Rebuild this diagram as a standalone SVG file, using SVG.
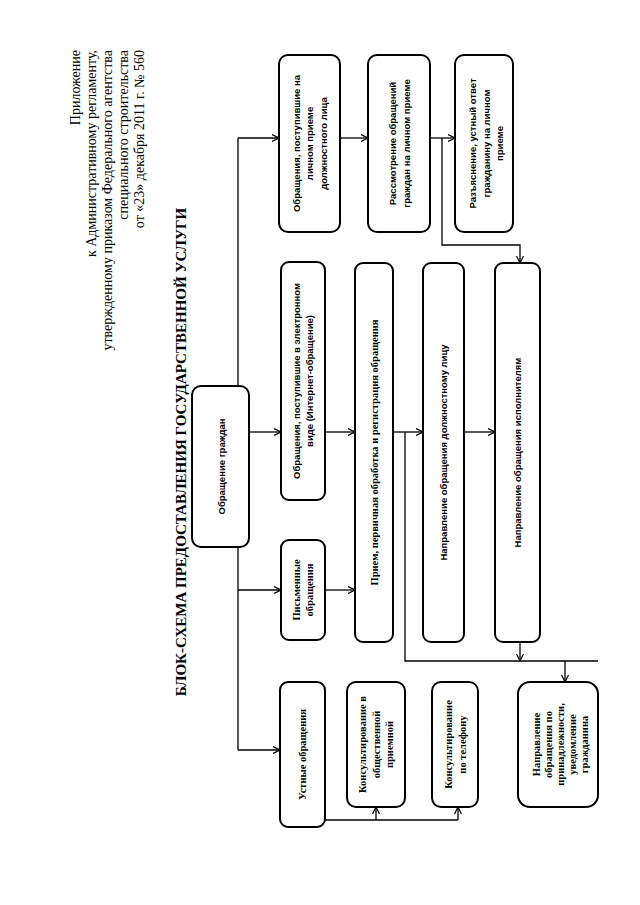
<svg xmlns="http://www.w3.org/2000/svg" width="640" height="905" viewBox="0 0 640 905">
<style>
.box{fill:#fff;stroke:#000;stroke-width:2}
.ln{fill:none;stroke:#000;stroke-width:1.3}
.hd{font-family:"Liberation Serif","Times New Roman",serif;font-size:14px;fill:#000}
.ttl{font-family:"Liberation Serif","Times New Roman",serif;font-size:15px;font-weight:bold;fill:#000}
.ss{font-family:"Liberation Sans",Arial,sans-serif;font-size:9.5px;font-weight:bold;fill:#000;text-anchor:middle}
.sr{font-family:"Liberation Serif","Times New Roman",serif;font-size:10.5px;font-weight:bold;fill:#000;text-anchor:middle}
</style>
<defs>
<marker id="ar" markerWidth="8" markerHeight="8" refX="7" refY="4" orient="auto" markerUnits="userSpaceOnUse">
<path d="M0,0.5 L7,4 L0,7.5" fill="none" stroke="#000" stroke-width="1.2"/>
</marker>
</defs>
<rect width="640" height="905" fill="#fff"/>
<g id="header" transform="rotate(-90)">
<text class="hd" x="-50" y="80" text-anchor="end">Приложение</text>
<text class="hd" x="-50" y="96" text-anchor="end">к Административному регламенту,</text>
<text class="hd" x="-50" y="112" text-anchor="end">утвержденному приказом Федерального агентства</text>
<text class="hd" x="-50" y="128" text-anchor="end">специального строительства</text>
<text class="hd" x="-50" y="144" text-anchor="end">от «23» декабря 2011 г. № 560</text>
</g>
<g id="title" transform="rotate(-90)">
<text class="ttl" x="-452" y="186" text-anchor="middle">БЛОК-СХЕМА ПРЕДОСТАВЛЕНИЯ ГОСУДАРСТВЕННОЙ УСЛУГИ</text>
</g>
<g id="connectors">
<path class="ln" d="M238,386 V138"/>
<path class="ln" d="M238,138 H279" marker-end="url(#ar)"/>
<path class="ln" d="M340,138 H368" marker-end="url(#ar)"/>
<path class="ln" d="M430,138 H455" marker-end="url(#ar)"/>
<path class="ln" d="M442,138 V245 H520 V263" marker-end="url(#ar)"/>
<path class="ln" d="M249,432 H281" marker-end="url(#ar)"/>
<path class="ln" d="M325,432 H355" marker-end="url(#ar)"/>
<path class="ln" d="M393,432 H423" marker-end="url(#ar)"/>
<path class="ln" d="M464,432 H495" marker-end="url(#ar)"/>
<path class="ln" d="M238,547 V750"/>
<path class="ln" d="M238,590 H281" marker-end="url(#ar)"/>
<path class="ln" d="M325,590 H355" marker-end="url(#ar)"/>
<path class="ln" d="M405,432 V661 H598"/>
<path class="ln" d="M520,642 V661" marker-end="url(#ar)"/>
<path class="ln" d="M565,661 V682" marker-end="url(#ar)"/>
<path class="ln" d="M238,750 H280" marker-end="url(#ar)"/>
<path class="ln" d="M325,820 H458"/>
<path class="ln" d="M376,820 V807" marker-end="url(#ar)"/>
<path class="ln" d="M458,820 V807" marker-end="url(#ar)"/>
</g>
<g id="n-obrashchenie">
<rect class="box" x="192" y="386" width="57" height="161" rx="9"/>
<text class="ss" transform="translate(221,466.5) rotate(-90)" y="3.5">Обращение граждан</text>
</g>
<g id="n-lichnyi-priem">
<rect class="box" x="279" y="55" width="61" height="177" rx="9"/>
<text class="ss" transform="translate(309.5,143.5) rotate(-90)"><tspan x="0" y="-10">Обращения, поступившие на</tspan><tspan x="0" y="3.5">личном приеме</tspan><tspan x="0" y="17">должностного лица</tspan></text>
</g>
<g id="n-rassmotrenie">
<rect class="box" x="368" y="55" width="62" height="177" rx="9"/>
<text class="ss" transform="translate(399,143.5) rotate(-90)"><tspan x="0" y="-3">Рассмотрение обращений</tspan><tspan x="0" y="10.5">граждан на личном приеме</tspan></text>
</g>
<g id="n-razyasnenie">
<rect class="box" x="455" y="55" width="58" height="177" rx="9"/>
<text class="ss" transform="translate(486,143.5) rotate(-90)"><tspan x="0" y="-10">Разъяснение, устный ответ</tspan><tspan x="0" y="3.5">гражданину на личном</tspan><tspan x="0" y="17">приеме</tspan></text>
</g>
<g id="n-elektronnye">
<rect class="box" x="281" y="262" width="44" height="238" rx="8"/>
<text class="ss" transform="translate(303,381) rotate(-90)"><tspan x="0" y="-3">Обращения, поступившие в электронном</tspan><tspan x="0" y="9.5">виде (Интернет-обращение)</tspan></text>
</g>
<g id="n-pismennye">
<rect class="box" x="281" y="540" width="44" height="100" rx="8"/>
<text class="sr" transform="translate(303,590) rotate(-90)"><tspan x="0" y="-3">Письменные</tspan><tspan x="0" y="9.5">обращения</tspan></text>
</g>
<g id="n-priem">
<rect class="box" x="355" y="263" width="38" height="379" rx="8"/>
<text class="sr" transform="translate(374,452.5) rotate(-90)" y="3.5">Прием, первичная обработка и регистрация обращения</text>
</g>
<g id="n-dolzhnostnomu">
<rect class="box" x="423" y="263" width="41" height="379" rx="8"/>
<text class="ss" transform="translate(443.5,452.5) rotate(-90)" y="3.5">Направление обращения должностному лицу</text>
</g>
<g id="n-ispolnitelyam">
<rect class="box" x="495" y="263" width="45" height="379" rx="8"/>
<text class="ss" transform="translate(517.5,452.5) rotate(-90)" y="3.5">Направление обращения исполнителям</text>
</g>
<g id="n-ustnye">
<rect class="box" x="280" y="682" width="45" height="145" rx="8"/>
<text class="sr" transform="translate(302.5,754.5) rotate(-90)" y="3.5">Устные обращения</text>
</g>
<g id="n-konsult-priemnaya">
<rect class="box" x="347" y="682" width="58" height="125" rx="9"/>
<text class="sr" transform="translate(376,744.5) rotate(-90)"><tspan x="0" y="-10">Консультирование в</tspan><tspan x="0" y="3.5">общественной</tspan><tspan x="0" y="17">приемной</tspan></text>
</g>
<g id="n-konsult-telefon">
<rect class="box" x="432" y="682" width="46" height="125" rx="9"/>
<text class="sr" transform="translate(455,744.5) rotate(-90)"><tspan x="0" y="-3">Консультирование</tspan><tspan x="0" y="10.5">по телефону</tspan></text>
</g>
<g id="n-prinadlezhnost">
<rect class="box" x="518" y="682" width="80" height="125" rx="12"/>
<text class="sr" transform="translate(560,744.5) rotate(-90)"><tspan x="0" y="-20.5">Направление</tspan><tspan x="0" y="-8.5">обращения по</tspan><tspan x="0" y="3.5">принадлежности,</tspan><tspan x="0" y="15.5">уведомление</tspan><tspan x="0" y="27.5">гражданина</tspan></text>
</g>
</svg>
